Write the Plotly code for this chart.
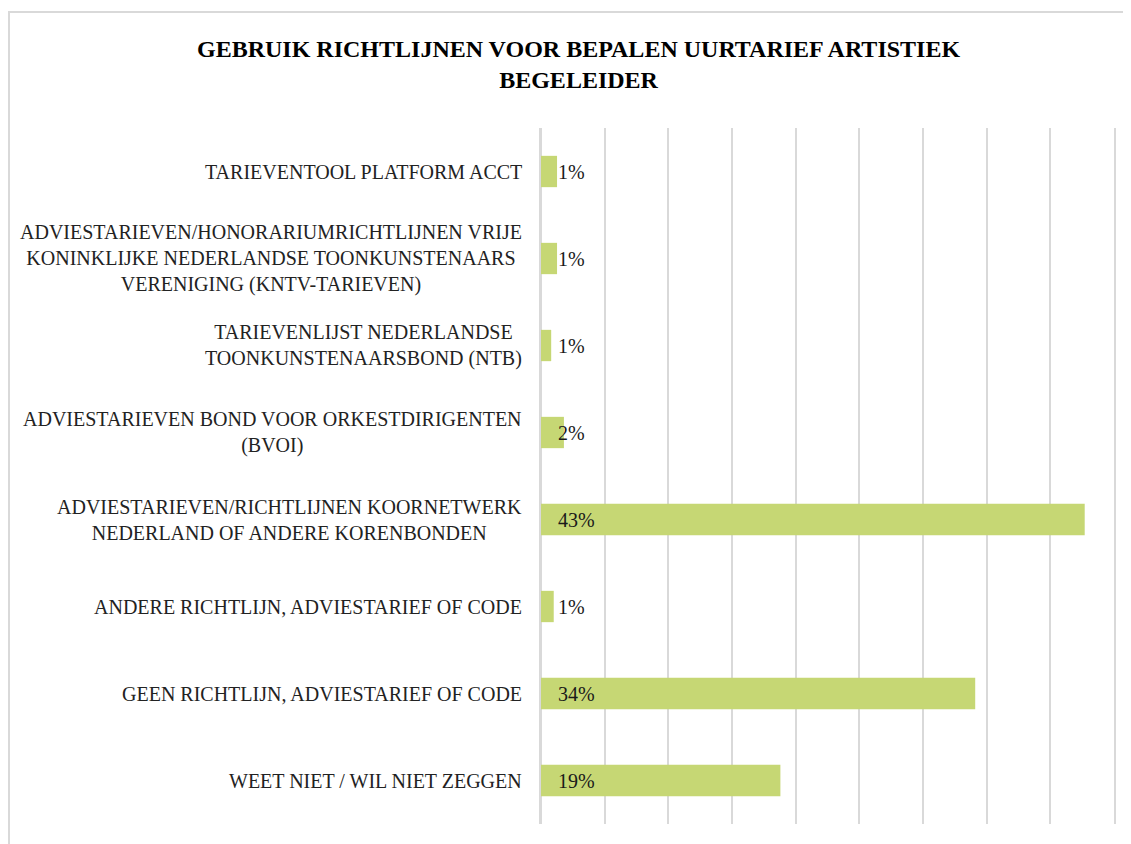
import plotly.graph_objects as go

categories = [
    "TARIEVENTOOL PLATFORM ACCT",
    "ADVIESTARIEVEN/HONORARIUMRICHTLIJNEN VRIJE<br>KONINKLIJKE NEDERLANDSE TOONKUNSTENAARS<br>VERENIGING (KNTV-TARIEVEN)",
    "TARIEVENLIJST NEDERLANDSE<br>TOONKUNSTENAARSBOND (NTB)",
    "ADVIESTARIEVEN BOND VOOR ORKESTDIRIGENTEN<br>(BVOI)",
    "ADVIESTARIEVEN/RICHTLIJNEN KOORNETWERK<br>NEDERLAND OF ANDERE KORENBONDEN",
    "ANDERE RICHTLIJN, ADVIESTARIEF OF CODE",
    "GEEN RICHTLIJN, ADVIESTARIEF OF CODE",
    "WEET NIET / WIL NIET ZEGGEN",
]
values = [1.26, 1.26, 0.8, 1.8, 42.7, 1.0, 34.1, 18.8]
value_labels = ["1%", "1%", "1%", "2%", "43%", "1%", "34%", "19%"]
cat_ids = ["c%d" % i for i in range(len(categories))]

# the page body adds an 8px offset; compensate
OFF = 8
W, H = 1131 - OFF, 844 - OFF
ML, MR, MT, MB = 541 - OFF, 17, 128 - OFF, 20
PW, PH = W - ML - MR, H - MT - MB

FONT = "Liberation Serif"
BAR = "#c6d774"
GRID = "#d9d9d9"

fig = go.Figure(go.Bar(
    x=values, y=cat_ids, orientation="h",
    marker=dict(color=BAR, line=dict(width=0)),
    hoverinfo="skip",
))

annotations = []
for cid, lab, vl in zip(cat_ids, categories, value_labels):
    annotations.append(dict(
        x=0, xref="paper", y=cid, yref="y", text=lab,
        xanchor="right", yanchor="middle", xshift=-17, align="center",
        showarrow=False, font=dict(family=FONT, size=20, color="#222222"),
    ))
    annotations.append(dict(
        x=0, xref="x", y=cid, yref="y", text=vl,
        xanchor="left", yanchor="middle", xshift=15, align="left",
        showarrow=False, font=dict(family=FONT, size=20, color="#1a1a1a"),
    ))

annotations.append(dict(
    x=(578 - OFF - ML) / PW, xref="paper", y=1 + (MT - (64 - OFF)) / PH,
    yref="paper", xanchor="center", yanchor="middle",
    text="<b>GEBRUIK RICHTLIJNEN VOOR BEPALEN UURTARIEF ARTISTIEK<br>BEGELEIDER</b>",
    showarrow=False, align="center",
    font=dict(family=FONT, size=24, color="#000000"),
))

shapes = [dict(
    type="rect", xref="paper", yref="paper", layer="below",
    x0=(9 - OFF - ML) / PW, x1=(W + 5 - ML) / PW,
    y0=-(MB + 5) / PH, y1=1 + (MT - (12 - OFF)) / PH,
    line=dict(color="#d9d9d9", width=2), fillcolor="rgba(0,0,0,0)",
)]

fig.update_layout(
    width=W, height=H,
    margin=dict(l=ML, r=MR, t=MT, b=MB),
    paper_bgcolor="white", plot_bgcolor="white",
    bargap=0.64, showlegend=False,
    annotations=annotations, shapes=shapes,
    xaxis=dict(range=[0, 45], dtick=5, showgrid=True, gridcolor=GRID, gridwidth=2,
               showticklabels=False, zeroline=True, zerolinecolor=GRID, zerolinewidth=2,
               showline=False, fixedrange=True),
    yaxis=dict(categoryorder="array", categoryarray=cat_ids, autorange="reversed",
               showticklabels=False, showgrid=False, zeroline=False,
               showline=True, mirror=True, linecolor=GRID, linewidth=2,
               fixedrange=True),
)

fig.write_html("out.html")
